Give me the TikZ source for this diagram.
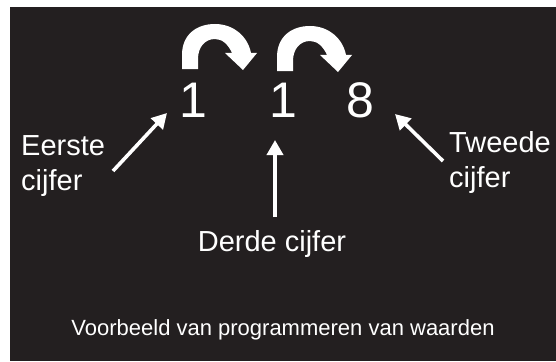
\documentclass[tikz,border=0pt]{standalone}
\usepackage{fontspec}
\setmainfont{Liberation Sans}
\usetikzlibrary{arrows.meta}
\definecolor{achtergrond}{HTML}{231F20}
\tikzset{
>={Triangle[length=15pt,width=16pt]},
  cijfer/.style={
    text=white,
    inner sep=0pt,
    anchor=base,
    font=\fontsize{50}{50}\selectfont},
  uitleg/.style={
    text=white,
    inner sep=0pt,
    align=left,
    anchor=base west,
    font=\fontsize{29}{35}\selectfont},
  pijl/.style={draw=white, line width=3.6pt, ->},
  bocht/.pic={
    \fill[white] (0,0) -- (0,-14) .. controls (0,-34) and (14,-45) .. (33,-45)
      .. controls (52,-45) and (66,-32) .. (69,-16) -- (75,-16) -- (61,1)
      -- (43,-16) -- (50,-16) .. controls (46,-25) and (40,-30) .. (33,-30)
      .. controls (23,-30) and (16,-22) .. (16,-10) -- (16,0) -- cycle;
  },
}
\begin{document}
\begin{tikzpicture}[x=1pt, y=-1pt]
\useasboundingbox (0,0) rectangle (556,361);
\fill[achtergrond] (10,7) rectangle (556,361);

%Nodes
\node[cijfer]  (een)    at (193.5,117) {1};
\node[cijfer]  (twee)   at (283.5,117) {1};
\node[cijfer]  (drie)   at (360,117)   {8};
\node[uitleg]  (eerste) at (21,190)    {Eerste\\cijfer};
\node[uitleg]  (tweede) at (449,187)   {Tweede\\cijfer};
\node[text=white, inner sep=0pt, anchor=base, font=\fontsize{29}{35}\selectfont]
               (derde)  at (272,251)   {Derde cijfer};
\node[text=white, inner sep=0pt, anchor=base, font=\fontsize{22}{22}\selectfont]
               (titel)  at (283,335)   {Voorbeeld van programmeren van waarden};

%Bochten
\pic at (182,69) {bocht};
\pic at (277,71) {bocht};

%Pijlen
\coordinate (eerste-staart) at (113,171);
\coordinate (eerste-punt)   at (167,113);
\coordinate (tweede-staart) at (443,161);
\coordinate (tweede-punt)   at (395,114);
\coordinate (derde-staart)  at (275,217);
\coordinate (derde-punt)    at (275,140);
\draw[pijl] (eerste-staart) -- (eerste-punt);
\draw[pijl] (tweede-staart) -- (tweede-punt);
\draw[pijl] (derde-staart) -- (derde-punt);

\end{tikzpicture}
\end{document}
